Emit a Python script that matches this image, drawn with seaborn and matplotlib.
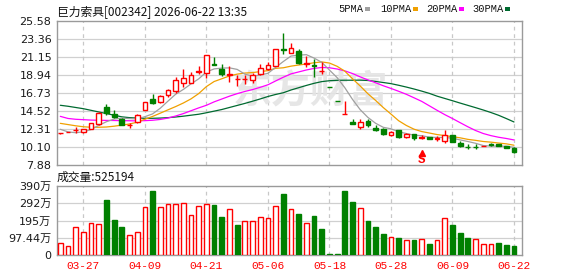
import matplotlib
matplotlib.use("Agg")
import matplotlib.pyplot as plt
from matplotlib.patches import Rectangle
import numpy as np
import pandas as pd
import seaborn as sns

# ---------------- data ----------------
title = "巨力索具[002342] 2026-06-22 13:35"
vol_title = "成交量:525194"

opens = [11.76, 11.95, 12.15, 11.90, 12.34, 12.92, 14.97, 14.15, 13.57, 12.74,
         13.17, 14.64, 16.00, 15.59, 16.45, 17.01, 17.99, 18.00, 19.25, 19.15,
         20.30, 19.68, 18.95, 18.40, 18.40, 18.28, 19.06, 19.68, 20.05, 22.15,
         21.68, 21.89, 20.30, 20.15, 19.40, 17.50, 15.75, 14.17, 13.20, 12.59,
         13.33, 12.47, 12.34, 11.53, 12.14, 11.28, 11.65, 11.25, 11.28, 11.13,
         10.79, 11.53, 10.62, 10.12, 10.12, 10.20, 10.40, 10.50, 10.18, 10.01]
highs = [11.82, 11.99, 12.53, 12.30, 13.05, 14.35, 15.38, 14.64, 13.60, 13.08,
         14.10, 15.65, 16.61, 16.50, 17.20, 18.73, 19.68, 19.35, 20.05, 21.36,
         21.19, 20.33, 20.08, 18.94, 18.94, 19.23, 20.29, 20.50, 22.14, 24.07,
         22.91, 22.10, 21.28, 20.87, 20.58, 17.50, 15.75, 15.75, 13.53, 13.50,
         13.50, 12.83, 12.40, 12.00, 12.20, 11.85, 11.70, 11.57, 11.35, 11.44,
         12.18, 11.57, 10.87, 10.40, 10.40, 10.25, 10.55, 10.52, 10.20, 10.05]
lows = [11.68, 11.93, 11.85, 11.85, 12.30, 12.80, 14.03, 13.62, 12.80, 12.43,
        13.10, 14.60, 15.41, 15.55, 16.20, 16.77, 17.50, 17.92, 19.06, 18.54,
        20.13, 18.86, 18.12, 17.63, 17.84, 17.92, 19.00, 19.60, 20.00, 21.50,
        21.61, 20.26, 19.96, 18.66, 19.06, 17.49, 15.74, 14.17, 12.88, 12.30,
        12.59, 12.06, 11.53, 11.50, 11.25, 11.25, 10.95, 11.11, 11.05, 10.83,
        10.62, 10.70, 10.06, 9.85, 9.85, 10.18, 10.25, 10.22, 10.01, 9.40]
closes = [11.80, 11.97, 12.18, 12.27, 13.00, 14.31, 14.23, 13.82, 12.84, 12.76,
          14.06, 15.62, 15.54, 16.32, 17.10, 18.33, 18.56, 18.94, 19.40, 21.36,
          20.20, 19.03, 19.10, 18.45, 18.45, 18.94, 19.76, 20.13, 22.14, 22.05,
          22.26, 20.38, 20.38, 20.05, 19.43, 17.49, 15.74, 14.17, 12.88, 13.12,
          12.76, 12.14, 11.65, 11.97, 11.28, 11.69, 11.16, 11.28, 11.08, 11.16,
          11.61, 10.75, 10.22, 10.09, 10.09, 10.22, 10.38, 10.22, 10.01, 9.48]

ma5 = [12.27, 11.95, 11.85, 11.95, 12.24, 12.75, 13.20, 13.53, 13.64, 13.59,
       13.54, 13.82, 14.16, 14.86, 15.73, 16.58, 17.17, 17.85, 18.47, 19.32,
       19.69, 19.79, 19.82, 19.63, 19.05, 18.79, 18.94, 19.15, 19.88, 20.60,
       21.27, 21.39, 21.44, 21.02, 20.50, 19.55, 18.62, 17.38, 15.94, 14.68,
       13.73, 13.01, 12.51, 12.33, 11.96, 11.75, 11.55, 11.48, 11.30, 11.27,
       11.26, 11.18, 10.96, 10.77, 10.55, 10.27, 10.20, 10.20, 10.18, 10.06]
ma10 = [13.00, 12.85, 12.70, 12.58, 12.52, 12.52, 12.55, 12.65, 12.78, 12.92,
        13.14, 13.51, 13.85, 14.25, 14.66, 15.06, 15.50, 16.01, 16.66, 17.52,
        18.14, 18.48, 18.83, 19.05, 19.18, 19.24, 19.36, 19.48, 19.76, 19.83,
        20.03, 20.17, 20.29, 20.45, 20.55, 20.41, 20.01, 19.41, 18.48, 17.59,
        16.64, 15.82, 14.94, 14.14, 13.32, 12.74, 12.28, 11.99, 11.81, 11.62,
        11.50, 11.36, 11.22, 11.03, 10.91, 10.77, 10.69, 10.58, 10.48, 10.31]
ma20 = [13.86, 13.60, 13.50, 13.45, 13.40, 13.38, 13.36, 13.35, 13.33, 13.32,
        13.30, 13.33, 13.38, 13.48, 13.65, 13.90, 14.20, 14.55, 14.90, 15.22,
        15.64, 15.99, 16.34, 16.65, 16.92, 17.15, 17.43, 17.74, 18.21, 18.67,
        19.08, 19.32, 19.56, 19.75, 19.87, 19.83, 19.68, 19.45, 19.12, 18.71,
        18.34, 17.99, 17.62, 17.29, 16.94, 16.57, 16.14, 15.70, 15.15, 14.60,
        14.07, 13.59, 13.08, 12.58, 12.12, 11.75, 11.49, 11.29, 11.14, 10.96]
ma30 = [15.22, 15.10, 14.95, 14.80, 14.60, 14.40, 14.20, 14.00, 13.80, 13.70,
        13.65, 13.62, 13.62, 13.65, 13.70, 13.78, 13.88, 14.00, 14.12, 14.30,
        14.50, 14.70, 14.95, 15.20, 15.45, 15.72, 16.00, 16.30, 16.55, 16.76,
        17.10, 17.38, 17.66, 17.92, 18.13, 18.24, 18.29, 18.30, 18.30, 18.31,
        18.27, 18.15, 18.02, 17.88, 17.68, 17.46, 17.22, 16.96, 16.68, 16.34,
        16.06, 15.78, 15.49, 15.21, 14.93, 14.64, 14.33, 13.99, 13.59, 13.17]

# volume in 万 (10k shares)
volume = [66, 51, 158, 128, 179, 173, 310, 197, 158, 111,
          128, 269, 361, 269, 286, 286, 292, 224, 275, 286,
          282, 214, 259, 169, 190, 190, 213, 209, 275, 344,
          259, 231, 180, 220, 147, 8, 8, 361, 299, 263,
          192, 158, 118, 100, 96, 83, 83, 89, 62, 83,
          207, 169, 124, 96, 89, 60, 60, 68, 56, 52]
vol_dir = ["u", "u", "u", "u", "u", "u", "d", "d", "d", "u",
           "u", "u", "d", "u", "u", "u", "u", "u", "u", "u",
           "d", "d", "u", "d", "u", "u", "u", "u", "u", "d",
           "u", "d", "u", "d", "d", "d", "d", "d", "d", "u",
           "d", "d", "d", "u", "d", "u", "d", "u", "d", "u",
           "u", "d", "d", "d", "u", "u", "u", "d", "d", "d"]

price_ticks = ["7.88", "10.10", "12.31", "14.52", "16.73", "18.94", "21.15", "23.36", "25.58"]
vol_tick_vals = [0, 97.44, 194.88, 292.32, 389.76]
vol_tick_labels = ["0", "97.44万", "195万", "292万", "390万"]
date_pos = [3, 11, 19, 27, 35, 43, 51, 59]
date_labels = ["03-27", "04-09", "04-21", "05-06", "05-18", "05-28", "06-09", "06-22"]
signal_idx = 47
signal_text = "S"
legend_names = ["5PMA", "10PMA", "20PMA", "30PMA"]

# ---------------- styling ----------------
RED = "#ff0000"
GREEN = "#008000"
MA_COLORS = ["#a0a0a0", "#f0a000", "#ff00ff", "#006a30"]
FRAME = "#9a9a9a"
GRID = "#d0d0d0"

sns.set_theme(style="white")
plt.rcParams["font.family"] = ["DejaVu Sans", "Noto Sans CJK SC"]

W, H = 578, 276
fig = plt.figure(figsize=(W / 100, H / 100), dpi=100)
fig.patch.set_facecolor("white")


def rect(l, t, r, b):
    return [l / W, 1 - b / H, (r - l) / W, (b - t) / H]


ax = fig.add_axes(rect(57, 21, 522, 165))
axv = fig.add_axes(rect(57, 186, 522, 255))

n = len(closes)
idx = np.arange(n)
df = pd.DataFrame({"i": idx, "open": opens, "high": highs, "low": lows, "close": closes,
                   "ma5": ma5, "ma10": ma10, "ma20": ma20, "ma30": ma30,
                   "vol": volume, "dir": vol_dir})

XMIN, XMAX = -0.43, 60.04

# ---------------- price panel ----------------
ax.set_xlim(XMIN, XMAX)
ax.set_ylim(7.88, 25.58)
ptick_vals = [float(t) for t in price_ticks]
ax.set_yticks(ptick_vals)
ax.set_yticklabels(price_ticks)
ax.set_xticks([])
for y in ptick_vals[1:-1]:
    ax.axhline(y, color=GRID, lw=0.9, zorder=0.5)
for x in date_pos:
    ax.axvline(x, color="#c8c8c8", lw=0.9, ls=(0, (3, 3)), zorder=0.5)

# watermark
ax.text(310 / W, 1 - 92 / H, "东方财富", transform=fig.transFigure,
        fontsize=28, fontweight="bold", color="#e4e4e4", alpha=0.9,
        ha="center", va="center", family=["Noto Sans CJK SC"], zorder=1)

# moving averages
for col, c in zip(["ma30", "ma20", "ma10", "ma5"], MA_COLORS[::-1]):
    sns.lineplot(data=df, x="i", y=col, ax=ax, color=c, lw=0.9, legend=False, zorder=2)

# candles
for r in df.itertuples():
    up = r.close >= r.open
    c = RED if up else GREEN
    ax.vlines(r.i, r.low, r.high, color=c, lw=1.0, zorder=3)
    bottom = min(r.open, r.close)
    h = max(abs(r.close - r.open), 0.02)
    ax.bar(r.i, h, bottom=bottom, width=0.62,
           facecolor="white" if up else GREEN, edgecolor=c, lw=1.0, zorder=4)

# signal marker
ax.plot([signal_idx], [9.3], marker="^", color=RED, ms=4, zorder=5)
ax.text(signal_idx, 8.45, signal_text, color=RED, fontsize=9, ha="center", va="center",
        family=["Liberation Mono"], fontweight="bold", zorder=5)

ax.set_xlabel("")
ax.set_ylabel("")

# ---------------- volume panel ----------------
sns.barplot(data=df, x="i", y="vol", native_scale=True, ax=axv, errorbar=None,
            width=0.62, color=GREEN, zorder=3)
for p, d in zip(axv.patches, vol_dir):
    if d == "u":
        p.set_facecolor("white")
        p.set_edgecolor(RED)
    else:
        p.set_facecolor(GREEN)
        p.set_edgecolor(GREEN)
    p.set_linewidth(1.0)

axv.set_xlim(XMIN, XMAX)
axv.set_ylim(0, 389.76)
axv.set_yticks(vol_tick_vals)
axv.set_yticklabels(vol_tick_labels)
for y in vol_tick_vals[1:-1]:
    axv.axhline(y, color=GRID, lw=0.9, zorder=0.5)
for x in date_pos:
    axv.axvline(x, color="#c8c8c8", lw=0.9, ls=(0, (3, 3)), zorder=0.5)
axv.set_xticks(date_pos)
axv.set_xticklabels(date_labels, color=RED, family=["Liberation Mono"], fontsize=8)
axv.set_xlabel("")
axv.set_ylabel("")

for a in (ax, axv):
    for s in a.spines.values():
        s.set_color(FRAME)
        s.set_linewidth(1.0)
        s.set_visible(True)
    a.tick_params(axis="y", length=3, width=0.8, color=FRAME, labelsize=8,
                  labelcolor="#1a1a1a", pad=1)
    a.set_facecolor("white")
axv.tick_params(axis="x", length=0, pad=4)

# ---------------- header texts ----------------
fig.text(57 / W, 1 - 11.5 / H, title, fontsize=8.5, family=["Noto Sans CJK SC"],
         color="#111111", ha="left", va="center")
fig.text(57 / W, 1 - 177.5 / H, vol_title, fontsize=8.5, family=["Noto Sans CJK SC"],
         color="#111111", ha="left", va="center")

legend_x = [338, 380, 426, 472]
square_x = [365, 413, 459, 505]
for name, tx, sx, c in zip(legend_names, legend_x, square_x, MA_COLORS):
    fig.text(tx / W, 1 - 9 / H, name, fontsize=7.5, family=["Liberation Mono"],
             color="#111111", ha="left", va="center")
    fig.patches.append(Rectangle((sx / W, 1 - 11 / H), 5 / W, 4 / H,
                                 transform=fig.transFigure, facecolor=c,
                                 edgecolor="none"))

fig.savefig("out.png", dpi=100, facecolor="white")
